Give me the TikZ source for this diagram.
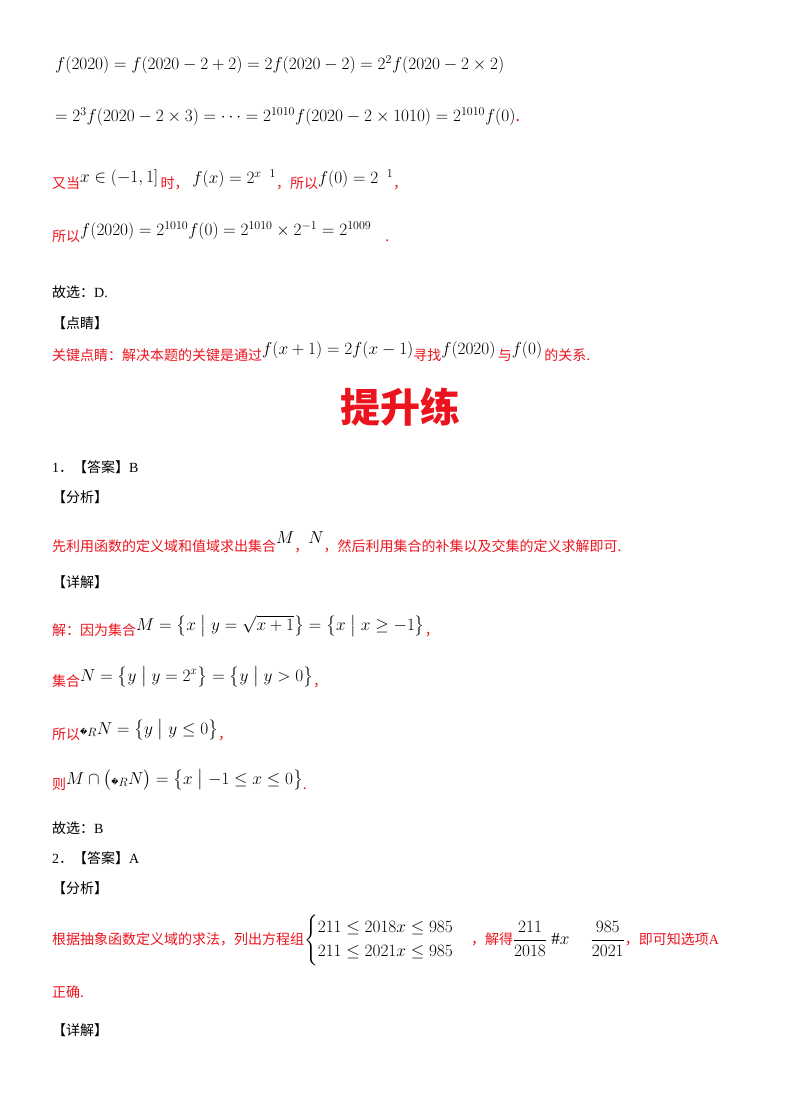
\documentclass[tikz,border=0pt]{standalone}
\usepackage{fontspec}
\usepackage{amsmath,amssymb}
\setmainfont{Liberation Serif}
\newfontfamily\cjk{Noto Sans CJK SC}
\newfontfamily\djvfont{DejaVu Sans}
\definecolor{rd}{RGB}{235,20,30}
\newcommand{\rc}[1]{{\color{rd}\cjk #1}}
\newcommand{\bc}[1]{{\cjk #1}}
\newcommand{\mm}[1]{{\fontsize{17}{20}\selectfont$#1$}}
\newcommand{\cmp}{\text{\djvfont\scriptsize �}}
\begin{document}
\begin{tikzpicture}[x=1pt,y=-1pt,
  ln/.style={anchor=west,inner sep=0pt,font=\fontsize{17}{20}\selectfont},
  tx/.style={anchor=west,inner sep=0pt,font=\fontsize{14}{17}\selectfont}]
\useasboundingbox (0,0) rectangle (800,1109);
\node[ln] (l1) at (55,65) {$f(2020)=f(2020-2+2)=2f(2020-2)=2^2f(2020-2\times2)$};
\node[ln] (l2) at (55,117) {$=2^3f(2020-2\times3)=\cdots=2^{1010}f(2020-2\times1010)=2^{1010}f(0)$\rc{.}};
\node[tx] (l3) at (52,180) {\rc{又当}\raisebox{6pt}{\mm{x\in(-1,1]}}\,\rc{时，}\;\raisebox{5pt}{\mm{f(x)=2^{x\ \ 1}}}\rc{，所以}\raisebox{5pt}{\mm{f(0)=2^{\ \ 1}}}\rc{，}};
\node[tx] (l4) at (52,232) {\rc{所以}\raisebox{6pt}{\mm{f(2020)=2^{1010}f(0)=2^{1010}\times2^{-1}=2^{1009}}}\quad\rc{.}};
\node[tx] (l5) at (52,292) {\bc{故选：}D.};
\node[tx] (l6) at (52,323) {\bc{【点睛】}};
\node[tx] (l7) at (52,352) {\rc{关键点睛：解决本题的关键是通过}\raisebox{6pt}{\mm{f(x+1)=2f(x-1)}}\rc{寻找}\raisebox{6pt}{\mm{f(2020)}}\,\rc{与}\raisebox{6pt}{\mm{f(0)}}\,\rc{的关系.}};
\node[anchor=center,inner sep=0pt,font=\fontsize{40}{44}\selectfont\bfseries] (title) at (400,407) {\rc{提升练}};
\node[tx] (l9) at (52,467) {1\bc{．【答案】}B};
\node[tx] (l10) at (52,497) {\bc{【分析】}};
\node[tx] (l11) at (52,542) {\rc{先利用函数的定义域和值域求出集合}\raisebox{8pt}{\mm{M}}\rc{，}\raisebox{8pt}{\mm{N}}\rc{，然后利用集合的补集以及交集的定义求解即可.}};
\node[tx] (l12) at (52,582) {\bc{【详解】}};
\node[tx] (l13) at (52,626) {\rc{解：因为集合}\raisebox{5pt}{\mm{M=\bigl\{x\bigm|y=\sqrt{x+1}\bigr\}=\bigl\{x\bigm|x\ge-1\bigr\}}}\rc{，}};
\node[tx] (l14) at (52,677) {\rc{集合}\raisebox{5pt}{\mm{N=\bigl\{y\bigm|y=2^x\bigr\}=\bigl\{y\bigm|y>0\bigr\}}}\rc{，}};
\node[tx] (l15) at (52,730) {\rc{所以}\raisebox{5pt}{\mm{\cmp_RN=\bigl\{y\bigm|y\le0\bigr\}}}\rc{，}};
\node[tx] (l16) at (52,780) {\rc{则}\raisebox{5pt}{\mm{M\cap\bigl(\cmp_RN\bigr)=\bigl\{x\bigm|-1\le x\le0\bigr\}}}\rc{.}};
\node[tx] (l17) at (52,828) {\bc{故选：}B};
\node[tx] (l18) at (52,858) {2\bc{．【答案】}A};
\node[tx] (l19) at (52,888) {\bc{【分析】}};
\node[tx] (l20) at (52,940) {\rc{根据抽象函数定义域的求法，列出方程组}\mm{\begin{cases}211\le2018x\le985\\211\le2021x\le985\end{cases}}\rc{，解得}\mm{\dfrac{211}{2018}\ \#x\quad\ \dfrac{985}{2021}}\rc{，即可知选项}{\color{rd}A}};
\node[tx] (l21) at (52,992) {\rc{正确.}};
\node[tx] (l22) at (52,1030) {\bc{【详解】}};
\end{tikzpicture}
\end{document}
